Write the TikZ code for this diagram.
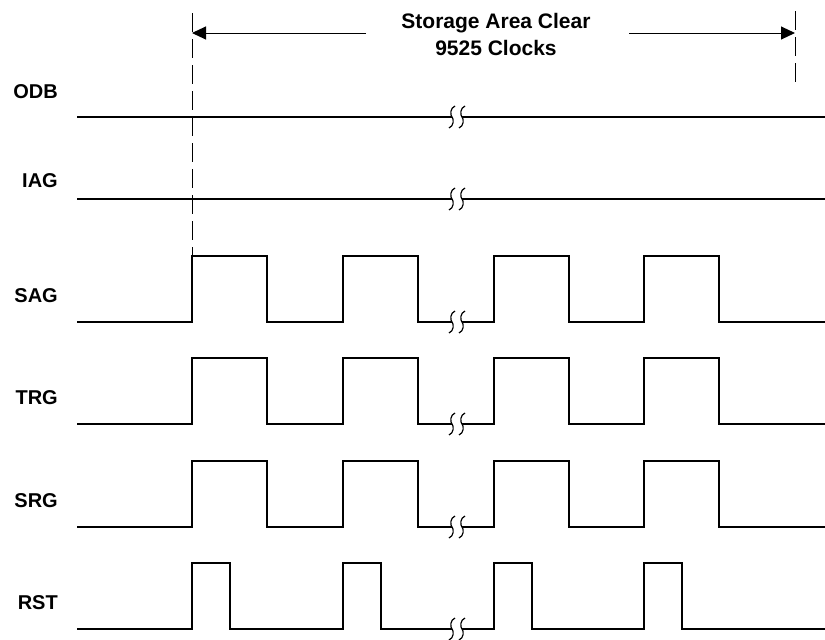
\documentclass[tikz,border=0pt]{standalone}
\usepackage{fontspec}
\setmainfont{Liberation Sans}
\usetikzlibrary{arrows.meta}
\tikzstyle{wave} = [line width=2pt, line join=miter]
\tikzstyle{guide} = [line width=1pt, dash pattern=on 19pt off 7pt]
\tikzstyle{dim} = [-{Triangle[length=14pt,width=13pt]}, line width=1pt]
\tikzstyle{sig} = [anchor=base east, inner sep=0pt,
    font=\fontsize{20}{24}\selectfont\bfseries]
\tikzstyle{brk} = [line width=1.2pt]
\newcommand{\gapmark}[2]{%
  \draw[brk] (#1+3,#2-11) .. controls (#1-2,#2-9) and (#1-2,#2-2) .. (#1,#2)
      .. controls (#1+2,#2+2) and (#1+2,#2+9) .. (#1-3,#2+11);}

\begin{document}
\begin{tikzpicture}[x=1pt, y=-1pt]
    \useasboundingbox (0,0) rectangle (825,640);

    % Span of the clear
    \node[font=\fontsize{21}{27}\selectfont\bfseries, align=center,
        anchor=north, inner sep=0pt] (title) at (496,13) {Storage Area Clear\\9525 Clocks};
    \coordinate (spanL) at (192,33);
    \coordinate (spanR) at (795,33);
    \coordinate (gapL) at (366,33);
    \coordinate (gapR) at (629,33);
    \draw[dim] (gapL) -- (spanL);
    \draw[dim] (gapR) -- (spanR);
    \draw[guide] (192,13) -- (192,256);
    \draw[guide] (795,11) -- (795,85);

    % Static gates
    \node[sig] (ODB) at (58,98) {ODB};
    \draw[wave] (77,117) -- (452,117) (462,117) -- (825,117);
    \gapmark{452}{117} \gapmark{462}{117}
    \node[sig] (IAG) at (58,187) {IAG};
    \draw[wave] (77,199) -- (452,199) (462,199) -- (825,199);
    \gapmark{452}{199} \gapmark{462}{199}

    % Clocked gates
    \foreach \y/\w/\name in {322/75/SAG, 424/75/TRG, 527/75/SRG, 629/38/RST} {
        \node[sig] (\name) at (58,\y-20) {\name};
        \draw[wave] (77,\y) -- (192,\y) -- (192,\y-66) -- (192+\w,\y-66) -- (192+\w,\y)
            -- (343,\y) -- (343,\y-66) -- (343+\w,\y-66) -- (343+\w,\y) -- (452,\y)
            (462,\y) -- (494,\y) -- (494,\y-66) -- (494+\w,\y-66) -- (494+\w,\y)
            -- (644,\y) -- (644,\y-66) -- (644+\w,\y-66) -- (644+\w,\y) -- (825,\y);
        \gapmark{452}{\y} \gapmark{462}{\y}
    }
\end{tikzpicture}
\end{document}
